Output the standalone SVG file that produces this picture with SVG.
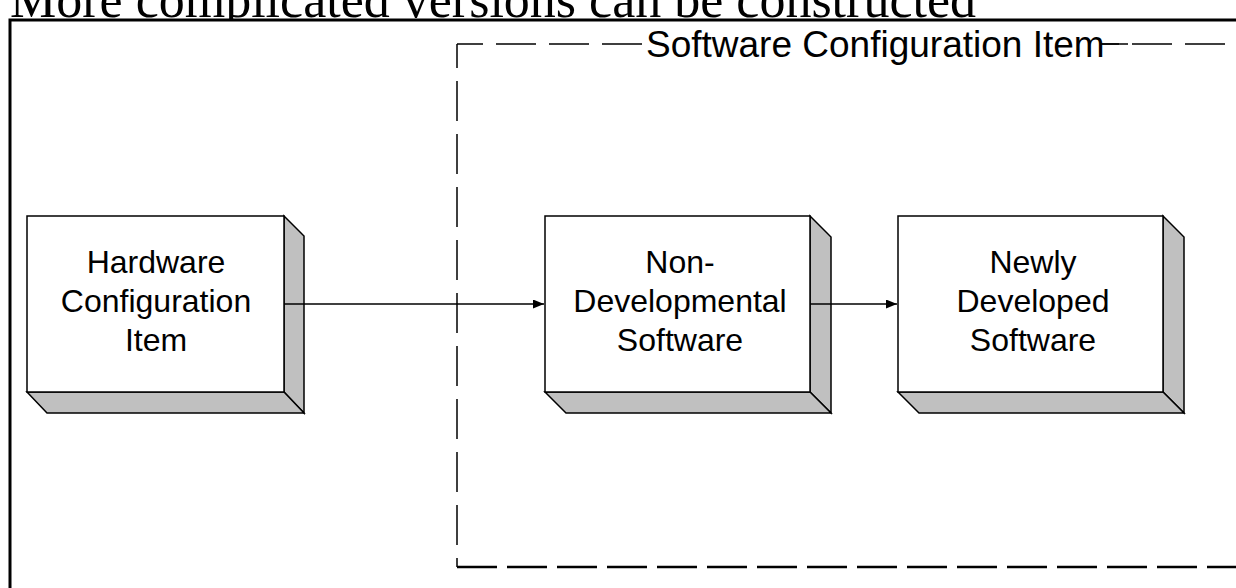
<svg xmlns="http://www.w3.org/2000/svg" width="1236" height="588" viewBox="0 0 1236 588">
  <defs>
    <style>
      .heading { font-family: "Liberation Serif", "Times New Roman", serif; font-size: 52px; fill: #000; }
      .label { font-family: "Liberation Sans", Arial, sans-serif; font-size: 32px; fill: #000; text-anchor: middle; }
      .group-label { font-family: "Liberation Sans", Arial, sans-serif; font-size: 37px; fill: #000; }
      .face { fill: #fff; stroke: #000; stroke-width: 1.5; }
      .side { fill: #c0c0c0; stroke: #000; stroke-width: 1.5; stroke-linejoin: miter; }
      .edge { fill: none; stroke: #000; stroke-width: 1.5; }
      .dash { fill: none; stroke: #000; stroke-width: 1.5; stroke-dasharray: 40 13; }
    </style>
    <marker id="arrow" viewBox="0 0 11 9" refX="11" refY="4.5" markerWidth="11" markerHeight="9" markerUnits="userSpaceOnUse" orient="auto">
      <path d="M0,0 L11,4.5 L0,9 Z" fill="#000"/>
    </marker>
  </defs>

  <rect width="1236" height="588" fill="#fff"/>

  <!-- slide heading, partly hidden behind the drawing panel -->
  <text class="heading" x="10" y="17">More complicated versions can be constructed</text>

  <!-- drawing panel -->
  <rect x="10" y="20" width="1226" height="568" fill="#fff"/>
  <path d="M10,588 V20 H1236" fill="none" stroke="#000" stroke-width="3"/>

  <!-- software configuration item boundary -->
  <g id="software-ci">
    <path class="dash" d="M457,44 H1236" stroke-dashoffset="14"/>
    <path class="dash" d="M457,44 V567" stroke-dashoffset="16"/>
    <path d="M457,567 H1236" fill="none" stroke="#000" stroke-width="2.5" stroke-dasharray="40 10"/>
    <rect x="643" y="38" width="458" height="12" fill="#fff"/>
    <path d="M1101,44 H1128" stroke="#000" stroke-width="1.5"/>
    <text class="group-label" x="646" y="57">Software Configuration Item</text>
  </g>

  <!-- hardware configuration item -->
  <g id="hardware-ci">
    <polygon class="side" points="284,216 304,236 304,413 284,392"/>
    <polygon class="side" points="27,392 284,392 304,413 47,413"/>
    <rect class="face" x="27" y="216" width="257" height="176"/>
    <text class="label" x="156" y="273">Hardware</text>
    <text class="label" x="156" y="312">Configuration</text>
    <text class="label" x="156" y="351">Item</text>
  </g>

  <!-- non-developmental software -->
  <g id="non-developmental">
    <polygon class="side" points="810,216 831,237 831,413 810,392"/>
    <polygon class="side" points="545,392 810,392 831,413 566,413"/>
    <rect class="face" x="545" y="216" width="265" height="176"/>
    <text class="label" x="680" y="273">Non-</text>
    <text class="label" x="680" y="312">Developmental</text>
    <text class="label" x="680" y="351">Software</text>
  </g>

  <!-- newly developed software -->
  <g id="newly-developed">
    <polygon class="side" points="1163,216 1184,237 1184,413 1163,392"/>
    <polygon class="side" points="898,392 1163,392 1184,413 919,413"/>
    <rect class="face" x="898" y="216" width="265" height="176"/>
    <text class="label" x="1033" y="273">Newly</text>
    <text class="label" x="1033" y="312">Developed</text>
    <text class="label" x="1033" y="351">Software</text>
  </g>

  <!-- connectors -->
  <g id="connectors">
    <line class="edge" x1="284" y1="304" x2="544" y2="304" marker-end="url(#arrow)"/>
    <line class="edge" x1="810" y1="304" x2="897" y2="304" marker-end="url(#arrow)"/>
  </g>
</svg>
